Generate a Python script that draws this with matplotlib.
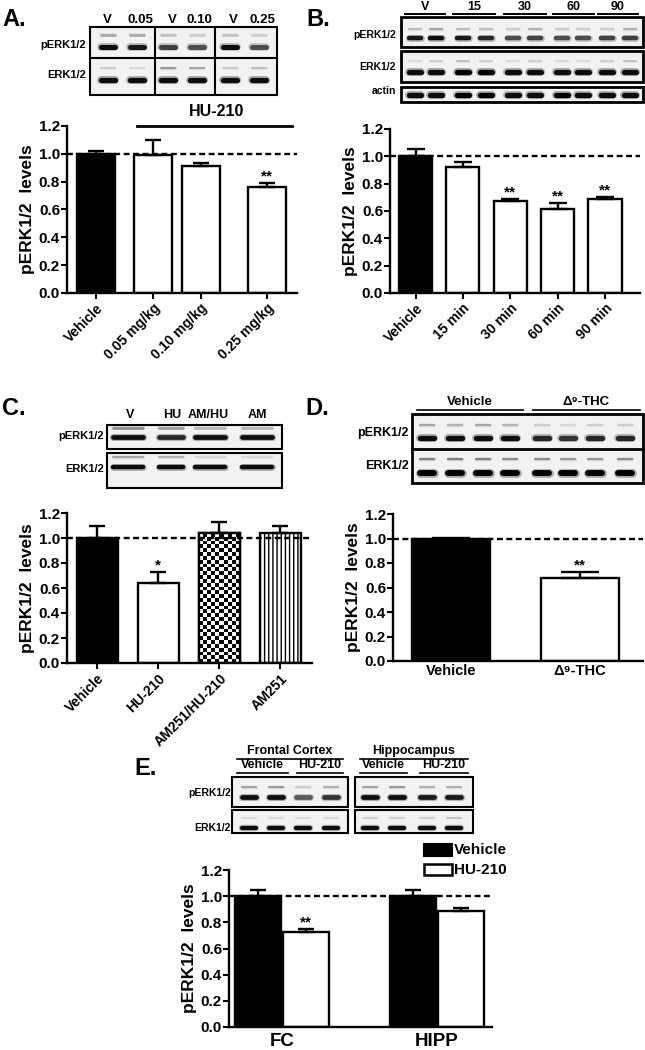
import numpy as np
import matplotlib
matplotlib.use('Agg')
import matplotlib.pyplot as plt
from matplotlib.patches import Rectangle

plt.rcParams['font.family'] = ['Liberation Sans', 'DejaVu Sans']
plt.rcParams['font.weight'] = 'bold'
plt.rcParams['axes.labelweight'] = 'bold'
plt.rcParams['hatch.linewidth'] = 1.0

W, H = 645, 1050

# ---- bar data ----
a_labels = ['Vehicle', '0.05 mg/kg', '0.10 mg/kg', '0.25 mg/kg']
a_means = [1.00, 0.995, 0.91, 0.76]
a_sem = [0.02, 0.105, 0.025, 0.03]
a_stars = ['', '', '', '**']

b_labels = ['Vehicle', '15 min', '30 min', '60 min', '90 min']
b_means = [1.00, 0.92, 0.67, 0.615, 0.69]
b_sem = [0.055, 0.04, 0.02, 0.045, 0.015]
b_stars = ['', '', '**', '**', '**']

c_labels = ['Vehicle', 'HU-210', 'AM251/HU-210', 'AM251']
c_means = [1.00, 0.64, 1.04, 1.04]
c_sem = [0.095, 0.09, 0.085, 0.055]
c_stars = ['', '*', '', '']

d_labels = ['Vehicle', 'Δ⁹-THC']
d_means = [1.00, 0.675]
d_sem = [0.005, 0.055]
d_stars = ['', '**']

e_groups = ['FC', 'HIPP']
e_vehicle = [1.00, 1.00]
e_vehicle_sem = [0.05, 0.05]
e_hu210 = [0.725, 0.885]
e_hu210_sem = [0.025, 0.025]
e_stars = ['**', '']

yticks = [0.0, 0.2, 0.4, 0.6, 0.8, 1.0, 1.2]

# ---- blot band darkness (0 = none, 1 = black) ----
a_lanes = ['V', '0.05', 'V', '0.10', 'V', '0.25']
a_perk_up = [0.35, 0.35, 0.25, 0.2, 0.25, 0.2]
a_perk_low = [0.95, 0.9, 0.75, 0.7, 0.95, 0.7]
a_erk_up = [0.2, 0.15, 0.4, 0.35, 0.2, 0.25]
a_erk_low = [0.95, 0.95, 0.95, 0.95, 0.95, 0.95]

b_lanes = ['V', '15', '30', '60', '90']
b_perk_up = [0.25, 0.35, 0.25, 0.25, 0.2, 0.3, 0.2, 0.2, 0.2, 0.3]
b_perk_low = [0.9, 0.95, 0.9, 0.85, 0.7, 0.75, 0.7, 0.7, 0.75, 0.75]
b_erk_up = [0.15, 0.2, 0.25, 0.2, 0.15, 0.2, 0.15, 0.15, 0.2, 0.25]
b_erk_low = [0.95, 0.95, 1.0, 1.0, 0.95, 0.95, 0.95, 0.95, 0.95, 0.95]
b_actin = [0.95, 0.95, 1.0, 1.0, 0.95, 0.95, 1.0, 0.95, 0.95, 0.95]

c_lanes = ['V', 'HU', 'AM/HU', 'AM']
c_perk_up = [0.45, 0.4, 0.3, 0.3]
c_perk_low = [0.95, 0.85, 0.95, 0.95]
c_erk_up = [0.35, 0.3, 0.15, 0.15]
c_erk_low = [0.95, 0.95, 0.95, 0.95]

d_perk_up = [0.35, 0.3, 0.35, 0.3, 0.2, 0.15, 0.2, 0.2]
d_perk_low = [0.95, 0.95, 0.95, 0.95, 0.85, 0.8, 0.85, 0.85]
d_erk_up = [0.5, 0.5, 0.5, 0.45, 0.45, 0.4, 0.4, 0.45]
d_erk_low = [1.0, 1.0, 1.0, 1.0, 1.0, 1.0, 1.0, 1.0]

e_fc_perk_up = [0.35, 0.4, 0.2, 0.3]
e_fc_perk_low = [0.95, 0.95, 0.65, 0.8]
e_fc_erk_up = [0.15, 0.15, 0.15, 0.15]
e_fc_erk_low = [0.95, 0.95, 0.95, 0.95]
e_hipp_perk_up = [0.35, 0.4, 0.3, 0.3]
e_hipp_perk_low = [0.95, 0.95, 0.9, 0.9]
e_hipp_erk_up = [0.2, 0.2, 0.2, 0.25]
e_hipp_erk_low = [0.95, 0.95, 0.95, 0.95]


fig = plt.figure(figsize=(W / 100, H / 100), dpi=100)

# overlay axes in pixel coordinates for blots and free text
ov = fig.add_axes([0, 0, 1, 1])
ov.set_xlim(0, W)
ov.set_ylim(H, 0)
ov.axis('off')


def px_axes(l, t, r, b):
    return fig.add_axes([l / W, 1 - b / H, (r - l) / W, (b - t) / H])


def box(x0, y0, x1, y1, lw=1.5):
    ov.add_patch(Rectangle((x0, y0), x1 - x0, y1 - y0, facecolor='#f2f2f2',
                           edgecolor='none', zorder=2))
    ov.add_patch(Rectangle((x0, y0), x1 - x0, y1 - y0, facecolor='none',
                           edgecolor='black', lw=lw, zorder=8))


def bands(xs, y, dark, hw, thick):
    for x, d in zip(xs, dark):
        g = str(1 - d)
        # soft edge, then solid core
        ov.plot([x - hw, x + hw], [y, y], color=g, lw=thick * 1.5,
                solid_capstyle='round', alpha=0.3, zorder=4)
        ov.plot([x - hw, x + hw], [y, y], color=g, lw=thick,
                solid_capstyle='round', zorder=5)


def overline(x0, x1, y, lw=1.2):
    ov.plot([x0, x1], [y, y], color='black', lw=lw, zorder=8)


def style(ax, xlim, xticks=True):
    ax.set_xlim(*xlim)
    ax.set_ylim(0, 1.2)
    ax.set_yticks(yticks)
    ax.set_yticklabels(['%.1f' % v for v in yticks])
    for s in ['top', 'right']:
        ax.spines[s].set_visible(False)
    for s in ['left', 'bottom']:
        ax.spines[s].set_linewidth(1.7)
    ax.tick_params(axis='y', direction='out', length=4, width=1.5, labelsize=11, pad=1)
    ax.tick_params(axis='x', direction='out', length=4 if xticks else 0, width=1.5,
                   labelsize=10, pad=2)
    ax.patch.set_alpha(0)
    ax.axhline(1.0, color='black', lw=1.7, ls=(0, (2.5, 1.5)), zorder=4)
    ax.set_ylabel('pERK1/2  levels', fontsize=12.5, labelpad=3)


def bars(ax, pos, means, sem, width, colors, capsize, stars, hatches=None):
    bs = ax.bar(pos, means, width=width, color=colors, edgecolor='black', lw=1.7, zorder=2)
    if hatches:
        for b, h in zip(bs, hatches):
            if h:
                b.set_hatch(h)
    ax.errorbar(pos, means, yerr=[np.zeros(len(means)), sem], fmt='none', ecolor='black',
                elinewidth=1.7, capsize=capsize, capthick=1.7, zorder=3)
    for x, m, s, st in zip(pos, means, sem, stars):
        if st:
            ax.text(x, m + s - 0.005, st, ha='center', va='bottom', fontsize=11)
    return bs


def rot_labels(ax, pos, labels):
    ax.set_xticks(pos)
    ax.set_xticklabels(labels, rotation=45, ha='right', va='top', rotation_mode='anchor',
                       fontsize=10)


# ---------------- Panel A ----------------
ov.text(2, 8, 'A.', fontsize=17, va='top', ha='left')
box(90, 27, 277, 95, lw=1.5)
ov.plot([90, 277], [58, 58], color='black', lw=1.5, zorder=8)
for xv in [155, 215]:
    ov.plot([xv, xv], [27, 95], color='black', lw=1.5, zorder=8)
a_lane_x = [108, 137, 168, 197, 230, 259]
a_lab_x = [107, 140, 172, 199, 233, 262]
bands(a_lane_x, 35, a_perk_up, 7, 1.8)
bands(a_lane_x, 47, a_perk_low, 7, 3.6)
bands(a_lane_x, 68, a_erk_up, 7, 1.5)
bands(a_lane_x, 80, a_erk_low, 7, 3.8)
for x, t in zip(a_lab_x, a_lanes):
    ov.text(x, 20, t, ha='center', va='center', fontsize=9.5)
ov.text(86, 45, 'pERK1/2', ha='right', va='center', fontsize=8)
ov.text(86, 75, 'ERK1/2', ha='right', va='center', fontsize=8)

axA = px_axes(67, 126, 297, 293)
a_pos = [0, 1.2, 2.2, 3.6]
style(axA, (-0.61, 4.23))
bars(axA, a_pos, a_means, a_sem, 0.8, ['black', 'white', 'white', 'white'], 6, a_stars)
rot_labels(axA, a_pos, a_labels)
ov.plot([137, 292], [126, 126], color='black', lw=2, zorder=8)
ov.text(217, 119, 'HU-210', ha='center', va='bottom', fontsize=11.5)

# ---------------- Panel B ----------------
ov.text(306, 8, 'B.', fontsize=17, va='top', ha='left')
box(401, 17, 643, 47, lw=2)
box(401, 51, 643, 82, lw=2)
box(401, 87, 643, 102, lw=2)
b_lane_x = [415, 436, 463, 486, 513, 535, 562, 583, 607, 630]
bands(b_lane_x, 29, b_perk_up, 6, 1.6)
bands(b_lane_x, 38, b_perk_low, 6, 3.2)
bands(b_lane_x, 61, b_erk_up, 6, 1.3)
bands(b_lane_x, 72, b_erk_low, 6, 3.8)
bands(b_lane_x, 95, b_actin, 6, 3.8)
b_line_x = [(405, 445), (453, 495), (504, 546), (553, 594), (598, 638)]
for (x0, x1), t in zip(b_line_x, b_lanes):
    overline(x0, x1, 14, lw=1.4)
    ov.text((x0 + x1) / 2, 12.5, t, ha='center', va='bottom', fontsize=9)
ov.text(396, 35, 'pERK1/2', ha='right', va='center', fontsize=7.5)
ov.text(396, 67, 'ERK1/2', ha='right', va='center', fontsize=7.5)
ov.text(396, 91, 'actin', ha='right', va='center', fontsize=7.5)

axB = px_axes(390, 129, 640, 293)
b_pos = np.arange(len(b_labels))
style(axB, (-0.54, 4.74))
bars(axB, b_pos, b_means, b_sem, 0.7, ['black'] + ['white'] * 4, 6.5, b_stars)
rot_labels(axB, b_pos, b_labels)

# ---------------- Panel C ----------------
ov.text(2, 397, 'C.', fontsize=17, va='top', ha='left')
box(107, 425, 282, 449, lw=1.5)
box(107, 453, 282, 488, lw=1.5)
c_lane_x = [128, 171, 210, 257]
c_hw = [15, 12, 15, 15]
for x, hw, u, l in zip(c_lane_x, c_hw, c_perk_up, c_perk_low):
    bands([x], 428, [u], hw, 1.8)
    bands([x], 437, [l], hw, 3.4)
for x, hw, u, l in zip(c_lane_x, c_hw, c_erk_up, c_erk_low):
    bands([x], 457, [u], hw, 1.5)
    bands([x], 467, [l], hw, 3.2)
c_lab_x = [130, 172, 208, 257]
for x, t in zip(c_lab_x, c_lanes):
    ov.text(x, 415, t, ha='center', va='center', fontsize=9)
ov.text(104, 436, 'pERK1/2', ha='right', va='center', fontsize=8)
ov.text(104, 469, 'ERK1/2', ha='right', va='center', fontsize=8)

axC = px_axes(67, 513, 312, 663)
c_pos = np.arange(len(c_labels))
style(axC, (-0.5, 3.52))
cb = bars(axC, c_pos, c_means, c_sem, 0.67, ['black', 'white', 'white', 'white'], 6, c_stars,
          hatches=['', '', '', '||||'])
# checkerboard fill for AM251/HU-210
r = cb[2]
cx0, cw, ch = r.get_x(), r.get_width(), r.get_height()
checker = np.indices((34, 10)).sum(axis=0) % 2
im = axC.imshow(checker, cmap='gray', extent=[cx0, cx0 + cw, 0, ch], aspect='auto',
                interpolation='nearest', zorder=2.1, origin='lower')
im.set_clip_path(r)
axC.add_patch(Rectangle((cx0, 0), cw, ch, facecolor='none', edgecolor='black', lw=1.7, zorder=2.2))
axC.set_xlim(-0.5, 3.52)
axC.set_ylim(0, 1.2)
rot_labels(axC, c_pos, c_labels)

# ---------------- Panel D ----------------
ov.text(305, 397, 'D.', fontsize=17, va='top', ha='left')
box(412, 414, 643, 483, lw=2)
ov.plot([412, 643], [449, 449], color='black', lw=2, zorder=8)
d_lane_x = [427, 455, 483, 510, 542, 568, 595, 625]
bands(d_lane_x, 425, d_perk_up, 7, 1.6)
bands(d_lane_x, 438, d_perk_low, 7, 3.8)
bands(d_lane_x, 459, d_erk_up, 7, 1.6)
bands(d_lane_x, 473, d_erk_low, 7, 4.2)
overline(417, 523, 410)
overline(533, 640, 410)
ov.text(470, 408, 'Vehicle', ha='center', va='bottom', fontsize=9.5)
ov.text(586, 408, 'Δ⁹-THC', ha='center', va='bottom', fontsize=9.5)
ov.text(409, 433, 'pERK1/2', ha='right', va='center', fontsize=9)
ov.text(409, 466, 'ERK1/2', ha='right', va='center', fontsize=9)

axD = px_axes(393, 514, 643, 661)
d_pos = np.arange(len(d_labels))
style(axD, (-0.45, 1.49), xticks=False)
bars(axD, d_pos, d_means, d_sem, 0.6, ['black', 'white'], 14, d_stars)
axD.set_xticks(d_pos)
axD.set_xticklabels(d_labels, fontsize=10.5)

# ---------------- Panel E ----------------
ov.text(134, 757, 'E.', fontsize=17, va='top', ha='left')
box(232, 777, 348, 807, lw=1.5)
box(232, 810, 348, 833, lw=1.5)
box(355, 777, 473, 807, lw=1.5)
box(355, 810, 473, 833, lw=1.5)
e_fc_x = [249, 276, 303, 331]
e_hipp_x = [370, 397, 427, 454]
bands(e_fc_x, 787, e_fc_perk_up, 7, 1.5)
bands(e_fc_x, 797, e_fc_perk_low, 7, 3.4)
bands(e_fc_x, 818, e_fc_erk_up, 7, 1.2)
bands(e_fc_x, 828, e_fc_erk_low, 7, 3.0)
bands(e_hipp_x, 787, e_hipp_perk_up, 7, 1.5)
bands(e_hipp_x, 797, e_hipp_perk_low, 7, 3.4)
bands(e_hipp_x, 818, e_hipp_erk_up, 7, 1.2)
bands(e_hipp_x, 828, e_hipp_erk_low, 7, 3.0)
overline(237, 343, 759)
overline(360, 468, 759)
ov.text(290, 757, 'Frontal Cortex', ha='center', va='bottom', fontsize=9)
ov.text(414, 757, 'Hippocampus', ha='center', va='bottom', fontsize=9)
for (x0, x1), t in zip([(237, 288), (297, 343), (360, 407), (420, 468)],
                       ['Vehicle', 'HU-210', 'Vehicle', 'HU-210']):
    overline(x0, x1, 773)
    ov.text((x0 + x1) / 2, 771, t, ha='center', va='bottom', fontsize=9)
ov.text(231, 793, 'pERK1/2', ha='right', va='center', fontsize=7.5)
ov.text(231, 828, 'ERK1/2', ha='right', va='center', fontsize=7.5)

axE = px_axes(229, 870, 492, 1027)
e_pos = np.arange(len(e_groups))
style(axE, (-0.342, 1.355), xticks=False)
off, ew = 0.155, 0.3
bars(axE, e_pos - off, e_vehicle, e_vehicle_sem, ew, 'black', 6, ['', ''])
bars(axE, e_pos + off, e_hu210, e_hu210_sem, ew, 'white', 6, e_stars)
axE.set_xticks(e_pos)
axE.set_xticklabels(e_groups, fontsize=13.5)
axE.tick_params(axis='x', pad=4)

# legend
ov.add_patch(Rectangle((424, 844), 28, 12, facecolor='black', edgecolor='black', lw=1.5, zorder=8))
ov.add_patch(Rectangle((424, 864), 28, 11, facecolor='white', edgecolor='black', lw=1.8, zorder=8))
ov.text(454, 850, 'Vehicle', ha='left', va='center', fontsize=11)
ov.text(454, 870, 'HU-210', ha='left', va='center', fontsize=11)

fig.savefig('out.png', dpi=100)
